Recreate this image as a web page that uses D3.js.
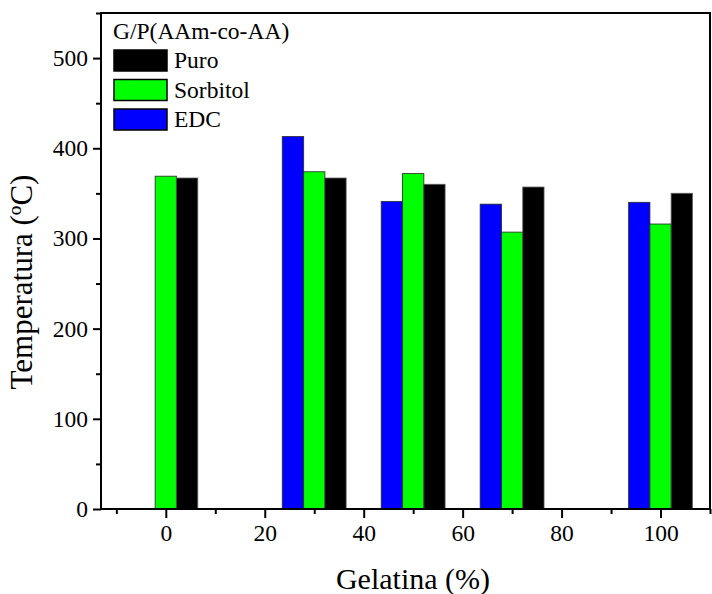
<!DOCTYPE html>
<html lang="en">
<head>
<meta charset="utf-8">
<title>Temperatura vs Gelatina</title>
<script src="https://cdn.jsdelivr.net/npm/d3@7"></script>
<style>
  html, body { margin: 0; padding: 0; background: #fff; }
</style>
</head>
<body>
<div id="chart"></div>
<script>
// data
var gelatina = [0, 30, 50, 70, 100];
var series = ["EDC", "Sorbitol", "Puro"];
var edc      = [null, 413, 341, 338, 340];
var sorbitol = [369, 374, 372, 307, 316];
var puro     = [367, 367, 360, 357, 350];
var xTicks = [0, 20, 40, 60, 80, 100];
var yTicks = [0, 100, 200, 300, 400, 500];
var legendOrder = ["Puro", "Sorbitol", "EDC"];

var colors = { EDC: "#0000ff", Sorbitol: "#00ff00", Puro: "#000000" };
var values = { EDC: edc, Sorbitol: sorbitol, Puro: puro };

var W = 712, H = 594;
var pLeft = 101, pRight = 710, pTop = 13, pBottom = 509;
var barW = 4.3, offsets = { EDC: -4.3, Sorbitol: 0, Puro: 4.3 };
var serif = "'Liberation Serif', 'Times New Roman', Times, serif";

var svg = d3.select("#chart").append("svg")
  .attr("width", W).attr("height", H)
  .style("font-family", serif);

var x = d3.scaleLinear().domain([-13.1, 110]).range([pLeft, pRight]);
var y = d3.scaleLinear().domain([0, 550]).range([pBottom, pTop]);

// bars
series.forEach(function(s) {
  var rows = gelatina.map(function(g, i) { return { g: g, v: values[s][i] }; })
    .filter(function(d) { return d.v != null; });
  svg.append("g").selectAll("rect")
    .data(rows)
    .enter().append("rect")
    .attr("x", function(d) { return x(d.g + offsets[s] - barW / 2); })
    .attr("width", function(d) { return x(barW) - x(0); })
    .attr("y", function(d) { return y(d.v); })
    .attr("height", function(d) { return y(0) - y(d.v); })
    .attr("fill", colors[s])
    .attr("stroke", s === "Puro" ? "#555" : "#222")
    .attr("stroke-opacity", 0.8)
    .attr("stroke-width", 1);
});

// axes
var xAxis = svg.append("g").attr("transform", "translate(0," + pBottom + ")")
  .call(d3.axisBottom(x).tickValues(xTicks).tickSize(9).tickPadding(6).tickFormat(d3.format("d")));
var xMinor = svg.append("g").attr("transform", "translate(0," + pBottom + ")")
  .call(d3.axisBottom(x).tickValues(d3.range(-10, 111, 20)).tickSize(5).tickFormat(""));
var yAxis = svg.append("g").attr("transform", "translate(" + pLeft + ",0)")
  .call(d3.axisLeft(y).tickValues(yTicks).tickSize(8).tickPadding(5).tickFormat(d3.format("d")));
var yMinor = svg.append("g").attr("transform", "translate(" + pLeft + ",0)")
  .call(d3.axisLeft(y).tickValues(d3.range(50, 551, 100)).tickSize(5).tickFormat(""));

[xAxis, xMinor, yAxis, yMinor].forEach(function(a) {
  a.attr("font-family", null).attr("font-size", null);
  a.select(".domain").remove();
  a.selectAll("line").attr("stroke", "#000").attr("stroke-width", 2);
  a.selectAll("text").style("font-family", serif).style("font-size", "23.5px").attr("fill", "#000");
});

// frame
svg.append("rect")
  .attr("x", pLeft).attr("y", pTop)
  .attr("width", pRight - pLeft).attr("height", pBottom - pTop)
  .attr("fill", "none").attr("stroke", "#000").attr("stroke-width", 2);

// axis titles
svg.append("text")
  .attr("x", 413).attr("y", 589)
  .attr("text-anchor", "middle")
  .style("font-family", serif)
  .style("font-size", "30px")
  .text("Gelatina (%)");

svg.append("text")
  .attr("transform", "translate(32,282) rotate(-90)")
  .attr("text-anchor", "middle")
  .style("font-family", serif)
  .style("font-size", "31px")
  .text("Temperatura (ºC)");

// legend
var lg = svg.append("g").style("font-family", serif).style("font-size", "23.5px");
lg.append("text").attr("x", 113).attr("y", 39).text("G/P(AAm-co-AA)");
legendOrder.forEach(function(s, i) {
  var yy = 50 + i * 29.5;
  lg.append("rect").attr("x", 114).attr("y", yy).attr("width", 53).attr("height", 21)
    .attr("fill", colors[s]).attr("stroke", "#000").attr("stroke-width", 1.5);
  lg.append("text").attr("x", 174).attr("y", yy + 18).text(s);
});
</script>
</body>
</html>
